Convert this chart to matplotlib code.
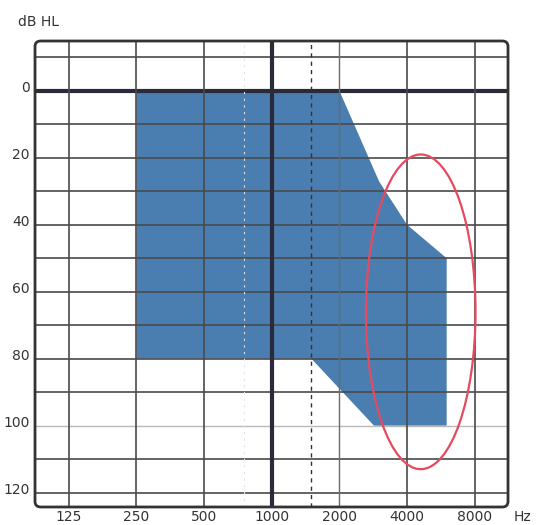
import matplotlib
matplotlib.use("Agg")
import matplotlib.pyplot as plt
import matplotlib.transforms as mtransforms
from matplotlib.patches import Ellipse, FancyBboxPatch, Polygon
import numpy as np

# audiogram grid
freq_ticks = [125, 250, 500, 1000, 2000, 4000, 8000]
freq_labels = ["125", "250", "500", "1000", "2000", "4000", "8000"]
db_grid = [-10, 0, 10, 20, 30, 40, 50, 60, 70, 80, 90, 100, 110, 120]
db_labels = [0, 20, 40, 60, 80, 100, 120]

# shaded region (frequency in Hz, level in dB HL)
region_freq = [250, 2000, 3000, 4000, 6000, 6000, 2850, 1500, 250]
region_db = [0, 0, 27, 40, 50, 100, 100, 80, 80]

# highlighted ellipse: centre (Hz, dB), half-width in octaves, half-height in dB
ell_freq = 4600
ell_db = 66
ell_half_oct = 0.81
ell_half_db = 47

GRID = "#4a4a4a"
BLUE = "#4a7db0"
RED = "#e64a5e"

fig = plt.figure(figsize=(5.42, 5.25), dpi=100)
ax = fig.add_axes([0.0646, 0.0343, 0.8727, 0.8876])
ax.set_xscale("log", base=2)
ax.set_xlim(88.4, 11250)
ax.set_ylim(124.3, -14.9)

# filled region
ax.add_patch(Polygon(np.column_stack([region_freq, region_db]), closed=True,
                     facecolor=BLUE, edgecolor="none", zorder=1))

# horizontal grid
for d in db_grid:
    if d == 0:
        ax.axhline(d, color="#2a2a3a", lw=3.0, zorder=2)
    elif d == 100:
        ax.axhline(d, color="#b8b8b8", lw=1.0, zorder=2)
    else:
        ax.axhline(d, color=GRID, lw=1.2, zorder=2)

# vertical grid
for f in freq_ticks:
    if f == 1000:
        ax.axvline(f, color="#2a2a3a", lw=3.0, zorder=2)
    elif f == 2000:
        ax.axvline(f, color="#6a6a6a", lw=1.0, zorder=2)
    else:
        ax.axvline(f, color=GRID, lw=1.2, zorder=2)
ax.axvline(1500, color="#333333", lw=1.0, ls=(0, (3, 3)), zorder=2)
ax.axvline(750, color="#e2e2e2", lw=0.8, ls=(0, (2, 4)), zorder=2)

# ellipse drawn in scaled (log2 Hz, dB) coordinates
ax.add_patch(Ellipse((np.log2(ell_freq), ell_db), width=2 * ell_half_oct,
                     height=2 * ell_half_db, transform=ax.transLimits + ax.transAxes,
                     fill=False, edgecolor=RED, lw=1.6, zorder=3))

# rounded frame
for s in ax.spines.values():
    s.set_visible(False)
ax.add_patch(FancyBboxPatch((0, 0), 1, 1, boxstyle="round,pad=0,rounding_size=0.012",
                            transform=ax.transAxes, fill=False, edgecolor="#333333",
                            lw=2.0, clip_on=False, zorder=4))

ax.set_xticks(freq_ticks)
ax.set_xticklabels(freq_labels)
ax.set_xticks([], minor=True)
ax.set_yticks(db_labels)
ax.set_yticklabels([str(v) for v in db_labels])
ax.tick_params(axis="both", length=0, labelsize=10, labelcolor="#333333")
ax.tick_params(axis="x", pad=2)
ax.tick_params(axis="y", pad=4)
up = mtransforms.ScaledTranslation(0, 4 / 100, fig.dpi_scale_trans)
for lab in ax.get_yticklabels():
    lab.set_transform(lab.get_transform() + up)

fig.text(18 / 542, 1 - 22 / 525, "dB HL", fontsize=10, color="#333333",
         ha="left", va="center")
fig.text(514 / 542, 1 - 517 / 525, "Hz", fontsize=10, color="#333333",
         ha="left", va="center")

fig.savefig("out.png", dpi=100)
